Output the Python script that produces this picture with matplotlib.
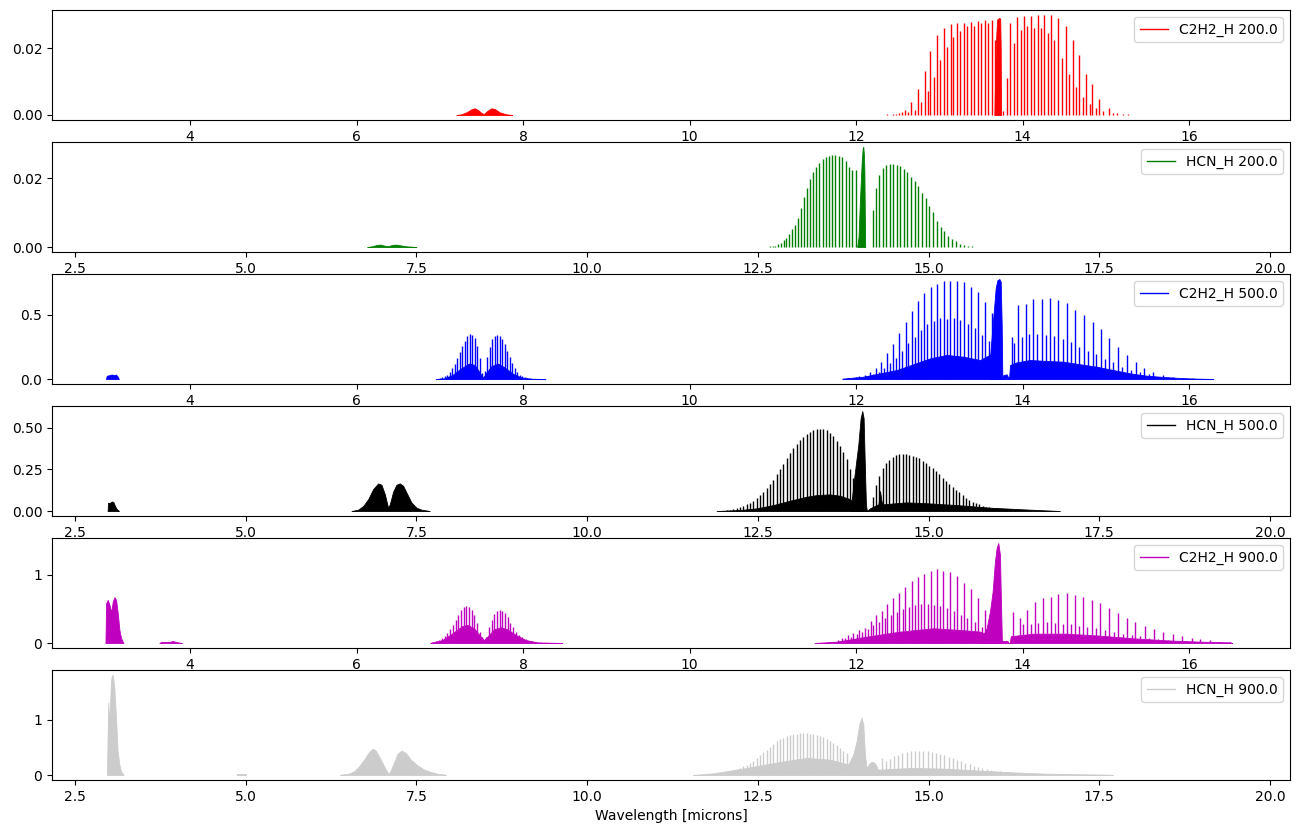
import matplotlib
matplotlib.use("Agg")
import matplotlib.pyplot as plt

# ---------------- axis ranges (microns) ----------------
C2H2_XLIM = (2.342, 17.213)
HCN_XLIM = (2.163, 20.293)

# ================= C2H2_H 200.0 =================
c2h2_200_line_wl = [12.376, 12.448, 12.480, 12.521, 12.553, 12.593, 12.629, 12.665, 12.705, 12.749,
                    12.785, 12.825, 12.861, 12.893, 12.937, 12.977, 13.013, 13.053, 13.093, 13.137,
                    13.169, 13.213, 13.249, 13.293, 13.329, 13.377, 13.417, 13.462, 13.506, 13.550,
                    13.586, 13.630, 13.670, 13.770, 13.814, 13.854, 13.894, 13.938, 13.978, 14.018,
                    14.058, 14.102, 14.138, 14.182, 14.222, 14.262, 14.302, 14.338, 14.382, 14.430,
                    14.474, 14.519, 14.559, 14.603, 14.643, 14.683, 14.727, 14.763, 14.807, 14.839,
                    14.883, 14.923, 14.963, 15.039, 15.091, 15.139, 15.211, 15.271, 15.323, 15.371]
c2h2_200_line_h = [0.0004, 0.0002, 0.0004, 0.0007, 0.0010, 0.0016, 0.0010, 0.0038, 0.0016, 0.0078,
                   0.0038, 0.0133, 0.0073, 0.0192, 0.0113, 0.0238, 0.0164, 0.0260, 0.0202, 0.0271,
                   0.0232, 0.0275, 0.0251, 0.0275, 0.0265, 0.0277, 0.0265, 0.0281, 0.0275, 0.0285,
                   0.0275, 0.0283, 0.0224, 0.0012, 0.0111, 0.0275, 0.0214, 0.0293, 0.0255, 0.0295,
                   0.0267, 0.0297, 0.0260, 0.0299, 0.0260, 0.0299, 0.0244, 0.0299, 0.0224, 0.0291,
                   0.0169, 0.0265, 0.0123, 0.0224, 0.0083, 0.0178, 0.0053, 0.0123, 0.0034, 0.0093,
                   0.0022, 0.0048, 0.0012, 0.0020, 0.0007, 0.0007, 0.0002, 0.0002, 0.0001, 0.0001]
c2h2_200_q_wl = [13.662, 13.672, 13.685, 13.695, 13.705, 13.720, 13.732, 13.738, 13.742]
c2h2_200_q_h = [0.0, 0.012, 0.024, 0.0285, 0.0288, 0.0290, 0.0288, 0.020, 0.0]
c2h2_200_b7_wl = [7.20, 7.26, 7.32, 7.38, 7.42, 7.46, 7.50, 7.53, 7.57, 7.62, 7.66, 7.72, 7.80, 7.87]
c2h2_200_b7_h = [0.0, 0.0002, 0.0008, 0.0017, 0.0020, 0.0015, 0.0006, 0.0003, 0.0012, 0.0020, 0.0018,
                 0.0008, 0.0002, 0.0]

# ================= HCN_H 200.0 =================
hcn_200_line_wl = [12.560, 12.598, 12.637, 12.676, 12.715, 12.755, 12.795, 12.836, 12.877, 12.918,
                   12.960, 13.002, 13.045, 13.088, 13.131, 13.175, 13.219, 13.264, 13.309, 13.355,
                   13.401, 13.447, 13.494, 13.541, 13.589, 13.637, 13.686, 13.735, 13.785, 13.835,
                   13.886, 13.937,
                   14.181, 14.230, 14.280, 14.330, 14.380, 14.431, 14.482, 14.533, 14.585, 14.637,
                   14.689, 14.742, 14.795, 14.848, 14.902, 14.956, 15.010, 15.065, 15.120, 15.176,
                   15.232, 15.288, 15.345, 15.402, 15.460, 15.518, 15.576, 15.635, 15.694, 15.754,
                   15.814, 15.875]
hcn_200_line_h = [0.0001, 0.0001, 0.0001, 0.0002, 0.0003, 0.0004, 0.0008, 0.0013, 0.0019, 0.0026,
                  0.0038, 0.0052, 0.0063, 0.0083, 0.0112, 0.0145, 0.0172, 0.0198, 0.0217, 0.0232,
                  0.0245, 0.0255, 0.0262, 0.0265, 0.0267, 0.0266, 0.0264, 0.0260, 0.0250, 0.0233,
                  0.0224, 0.0224,
                  0.0108, 0.0170, 0.0210, 0.0229, 0.0237, 0.0241, 0.0241, 0.0239, 0.0234, 0.0227,
                  0.0217, 0.0204, 0.0192, 0.0177, 0.0157, 0.0141, 0.0120, 0.0102, 0.0075, 0.0058,
                  0.0045, 0.0032, 0.0023, 0.0016, 0.0010, 0.0006, 0.0003, 0.0002, 0.0001, 0.0001,
                  0.0001, 0.0001]
hcn_200_q_wl = [13.955, 13.975, 13.995, 14.010, 14.022, 14.035, 14.044, 14.052, 14.060, 14.066, 14.072]
hcn_200_q_h = [0.0, 0.003, 0.0135, 0.020, 0.025, 0.0285, 0.0290, 0.027, 0.022, 0.010, 0.0]
hcn_200_b7_wl = [6.78, 6.85, 6.92, 6.97, 7.03, 7.08, 7.13, 7.19, 7.26, 7.35, 7.50]
hcn_200_b7_h = [0.0, 0.0002, 0.0006, 0.0007, 0.0004, 0.0002, 0.0005, 0.0007, 0.0005, 0.0002, 0.0]

# ================= C2H2_H 500.0 =================
c2h2_500_line_wl = [12.040, 12.108, 12.172, 12.237, 12.305, 12.377, 12.449, 12.521, 12.597, 12.669,
                    12.749, 12.821, 12.897, 12.973, 13.053, 13.133, 13.213, 13.298, 13.386, 13.470,
                    13.554, 13.630,
                    13.870, 13.942, 14.038, 14.130, 14.235, 14.335, 14.431, 14.531, 14.631, 14.739,
                    14.843, 14.939, 15.043, 15.147, 15.252, 15.360, 15.464, 15.572, 15.692, 15.812,
                    15.932, 16.052, 16.172, 16.293]
c2h2_500_line_h = [0.021, 0.031, 0.057, 0.083, 0.135, 0.200, 0.270, 0.357, 0.443, 0.531,
                   0.609, 0.669, 0.716, 0.740, 0.766, 0.766, 0.766, 0.760, 0.721, 0.682,
                   0.604, 0.513,
                   0.331, 0.578, 0.583, 0.625, 0.625, 0.630, 0.617, 0.591, 0.539, 0.500,
                   0.448, 0.391, 0.323, 0.253, 0.188, 0.130, 0.089, 0.052, 0.031, 0.018,
                   0.010, 0.005, 0.003, 0.002]
c2h2_500_mid_wl = [11.84, 11.88, 11.92, 11.96, 12.00, 12.140, 12.209, 12.273, 12.341, 12.413,
                   12.485, 12.557, 12.629, 12.705, 12.781, 12.857, 12.933, 13.013, 13.093, 13.173,
                   13.254, 13.342, 13.426, 13.514, 13.594,
                   13.898, 13.990, 14.082, 14.178, 14.283, 14.383, 14.483, 14.579, 14.683, 14.783,
                   14.883, 14.987, 15.091, 15.196, 15.304, 15.412, 15.520]
c2h2_500_mid_h = [0.002, 0.003, 0.004, 0.008, 0.012, 0.026, 0.042, 0.057, 0.083, 0.122,
                  0.167, 0.219, 0.279, 0.331, 0.383, 0.427, 0.453, 0.474, 0.469, 0.474,
                  0.461, 0.427, 0.396, 0.344, 0.297,
                  0.279, 0.331, 0.349, 0.349, 0.344, 0.336, 0.313, 0.292, 0.253, 0.219,
                  0.193, 0.156, 0.130, 0.096, 0.070, 0.052, 0.036]
c2h2_500_base_wl = [11.836, 12.088, 12.289, 12.489, 12.689, 12.889, 13.089, 13.290, 13.490, 13.610,
                    13.650, 13.758, 13.770, 13.810, 13.838, 13.850, 13.930, 14.090, 14.291, 14.491,
                    14.691, 14.891, 15.091, 15.292, 15.492, 15.692, 15.892, 16.092, 16.293]
c2h2_500_base_h = [0.003, 0.018, 0.044, 0.070, 0.115, 0.161, 0.188, 0.174, 0.148, 0.190,
                   0.25, 0.0, 0.031, 0.036, 0.0, 0.109, 0.130, 0.148, 0.141, 0.135,
                   0.115, 0.096, 0.070, 0.044, 0.026, 0.016, 0.008, 0.003, 0.0]
c2h2_500_q_wl = [13.600, 13.615, 13.638, 13.658, 13.678, 13.698, 13.722, 13.738, 13.750, 13.758]
c2h2_500_q_h = [0.0, 0.21, 0.40, 0.55, 0.71, 0.77, 0.78, 0.76, 0.42, 0.0]
c2h2_500_b7_line_wl = [6.97, 7.00, 7.03, 7.06, 7.09, 7.12, 7.15, 7.18, 7.21, 7.24, 7.27, 7.30, 7.33,
                       7.36, 7.39, 7.42, 7.45, 7.48, 7.51, 7.54, 7.57, 7.60, 7.63, 7.66, 7.69, 7.72,
                       7.75, 7.78, 7.81, 7.84, 7.87, 7.90, 7.93, 7.96, 7.99, 8.02, 8.05, 8.08, 8.12,
                       8.16, 8.20, 8.24]
c2h2_500_b7_line_h = [0.003, 0.006, 0.012, 0.020, 0.035, 0.055, 0.085, 0.120, 0.160, 0.210, 0.260,
                      0.300, 0.335, 0.350, 0.345, 0.320, 0.260, 0.160, 0.050, 0.060, 0.170, 0.250,
                      0.310, 0.335, 0.340, 0.335, 0.310, 0.270, 0.220, 0.170, 0.125, 0.085, 0.055,
                      0.035, 0.020, 0.012, 0.007, 0.004, 0.002, 0.001, 0.001, 0.001]
c2h2_500_b7_base_wl = [6.95, 7.05, 7.15, 7.25, 7.35, 7.42, 7.48, 7.52, 7.56, 7.62, 7.70, 7.78,
                       7.88, 7.98, 8.10, 8.27]
c2h2_500_b7_base_h = [0.0, 0.005, 0.030, 0.080, 0.120, 0.110, 0.050, 0.010, 0.050, 0.100, 0.120,
                      0.090, 0.040, 0.012, 0.002, 0.0]
c2h2_500_b3_wl = [2.99, 3.00, 3.03, 3.06, 3.09, 3.11, 3.13, 3.145]
c2h2_500_b3_h = [0.0, 0.025, 0.030, 0.035, 0.030, 0.035, 0.020, 0.0]

# ================= HCN_H 500.0 =================
hcn_500_line_wl = [11.896, 11.945, 11.994, 12.043, 12.092, 12.141, 12.189, 12.238, 12.287, 12.336,
                   12.385, 12.433, 12.482, 12.531, 12.580, 12.629, 12.677, 12.726, 12.775, 12.824,
                   12.873, 12.921, 12.970, 13.019, 13.068, 13.117, 13.166, 13.214, 13.263, 13.312,
                   13.361, 13.410, 13.458, 13.507, 13.556, 13.605, 13.654, 13.702, 13.751, 13.800,
                   13.849, 13.898,
                   14.181, 14.230, 14.278, 14.327, 14.376, 14.425, 14.474, 14.522, 14.571, 14.620,
                   14.669, 14.718, 14.766, 14.815, 14.864, 14.913, 14.962, 15.010, 15.059, 15.108,
                   15.157, 15.206, 15.255, 15.303, 15.352, 15.401, 15.450, 15.499, 15.547, 15.596,
                   15.645, 15.694, 15.743, 15.792, 15.840, 15.889, 15.938, 15.987, 16.036, 16.084,
                   16.133, 16.192, 16.265, 16.339, 16.436, 16.534, 16.631, 16.729, 16.826, 16.924]
hcn_500_line_h = [0.0005, 0.0005, 0.002, 0.004, 0.008, 0.012, 0.016, 0.024, 0.032, 0.040,
                  0.048, 0.060, 0.076, 0.096, 0.112, 0.137, 0.161, 0.187, 0.221, 0.253,
                  0.281, 0.317, 0.349, 0.378, 0.402, 0.426, 0.446, 0.462, 0.478, 0.486,
                  0.492, 0.494, 0.492, 0.486, 0.470, 0.450, 0.422, 0.390, 0.353, 0.313,
                  0.253, 0.197,
                  0.086, 0.157, 0.213, 0.257, 0.287, 0.307, 0.327, 0.337, 0.341, 0.341,
                  0.341, 0.337, 0.333, 0.325, 0.317, 0.301, 0.287, 0.273, 0.257, 0.241,
                  0.221, 0.201, 0.181, 0.161, 0.145, 0.127, 0.112, 0.096, 0.080, 0.068,
                  0.056, 0.046, 0.040, 0.032, 0.026, 0.024, 0.020, 0.016, 0.014, 0.012,
                  0.010, 0.010, 0.006, 0.004, 0.002, 0.001, 0.001, 0.001, 0.001, 0.001]
hcn_500_base_wl = [11.896, 12.238, 12.482, 12.726, 12.970, 13.214, 13.361, 13.556, 13.702, 13.849,
                   13.883, 14.098, 14.142, 14.240, 14.265, 14.290, 14.310, 14.330, 14.435, 14.679,
                   14.923, 15.411, 15.899, 16.387, 16.924]
hcn_500_base_h = [0.0, 0.006, 0.016, 0.036, 0.062, 0.086, 0.096, 0.100, 0.092, 0.072,
                  0.056, 0.0, 0.016, 0.036, 0.040, 0.120, 0.060, 0.040, 0.044, 0.052,
                  0.048, 0.036, 0.020, 0.010, 0.0]
hcn_500_q_wl = [13.860, 13.873, 13.922, 13.971, 14.005, 14.029, 14.049, 14.069, 14.083, 14.098]
hcn_500_q_h = [0.0, 0.060, 0.237, 0.398, 0.558, 0.602, 0.558, 0.237, 0.036, 0.0]
hcn_500_b7_wl = [6.549, 6.646, 6.720, 6.793, 6.866, 6.939, 6.988, 7.037, 7.085, 7.110, 7.159, 7.207,
                 7.256, 7.305, 7.354, 7.427, 7.500, 7.573, 7.695]
hcn_500_b7_h = [0.0, 0.008, 0.030, 0.071, 0.132, 0.166, 0.158, 0.101, 0.020, 0.040, 0.117, 0.158,
                0.166, 0.152, 0.111, 0.051, 0.020, 0.008, 0.0]
hcn_500_b3_wl = [2.978, 2.983, 3.012, 3.037, 3.061, 3.085, 3.110, 3.144]
hcn_500_b3_h = [0.0, 0.049, 0.049, 0.057, 0.055, 0.030, 0.012, 0.0]

# ================= C2H2_H 900.0 =================
c2h2_900_line_wl = [11.53, 11.58, 11.63, 11.68, 11.73, 11.78,
                    11.828, 11.908, 11.968, 12.040, 12.108, 12.176, 12.240, 12.308, 12.376, 12.448,
                    12.520, 12.592, 12.668, 12.748, 12.820, 12.897, 12.977, 13.049, 13.133, 13.217,
                    13.297, 13.381, 13.469, 13.553,
                    13.890, 13.970, 14.050, 14.150, 14.242, 14.338, 14.430, 14.530, 14.630, 14.730,
                    14.830, 14.931, 15.043, 15.151, 15.251, 15.351, 15.471, 15.579, 15.691, 15.803,
                    15.912, 16.032, 16.132, 16.252, 16.372, 16.492]
c2h2_900_line_h = [0.005, 0.005, 0.006, 0.008, 0.012, 0.040,
                   0.078, 0.118, 0.142, 0.191, 0.225, 0.324, 0.412, 0.471, 0.569, 0.657,
                   0.740, 0.828, 0.902, 0.961, 1.015, 1.059, 1.078, 1.059, 1.034, 0.985,
                   0.887, 0.789, 0.657, 0.485,
                   0.461, 0.363, 0.485, 0.608, 0.657, 0.681, 0.716, 0.730, 0.706, 0.681,
                   0.632, 0.583, 0.510, 0.436, 0.363, 0.314, 0.255, 0.206, 0.167, 0.127,
                   0.108, 0.078, 0.059, 0.039, 0.020, 0.010]
c2h2_900_mid_wl = [11.868, 11.936, 12.008, 12.076, 12.144, 12.208, 12.276, 12.344, 12.416, 12.488,
                   12.560, 12.632, 12.708, 12.784, 12.861, 12.937, 13.013, 13.093, 13.177, 13.257,
                   13.337, 13.425, 13.509,
                   14.002, 14.098, 14.190, 14.290, 14.390, 14.490, 14.582, 14.682, 14.778, 14.883,
                   14.991, 15.099, 15.203, 15.311, 15.411, 15.523, 15.631, 15.743]
c2h2_900_mid_h = [0.069, 0.093, 0.127, 0.157, 0.206, 0.265, 0.304, 0.363, 0.412, 0.451,
                  0.500, 0.534, 0.559, 0.569, 0.569, 0.559, 0.549, 0.520, 0.471, 0.412,
                  0.363, 0.314, 0.240,
                  0.275, 0.275, 0.289, 0.304, 0.294, 0.284, 0.275, 0.255, 0.235, 0.216,
                  0.186, 0.167, 0.137, 0.118, 0.098, 0.078, 0.059, 0.049]
c2h2_900_base_wl = [11.50, 11.767, 12.128, 12.528, 12.929, 13.249, 13.489,
                    13.755, 13.760, 13.820, 13.830, 13.845, 13.860, 14.130, 14.530, 14.931, 15.331,
                    15.731, 16.132, 16.492, 16.520]
c2h2_900_base_h = [0.0, 0.020, 0.093, 0.167, 0.216, 0.191, 0.167,
                   0.0, 0.030, 0.030, 0.0, 0.0, 0.100, 0.137, 0.137, 0.108, 0.069,
                   0.039, 0.020, 0.010, 0.0]
c2h2_900_q_wl = [13.480, 13.529, 13.569, 13.609, 13.641, 13.669, 13.689, 13.709, 13.729, 13.741, 13.753]
c2h2_900_q_h = [0.0, 0.118, 0.216, 0.461, 0.755, 1.196, 1.392, 1.466, 1.294, 0.608, 0.0]
c2h2_900_b3_wl = [2.984, 2.992, 3.012, 3.032, 3.052, 3.072, 3.092, 3.112, 3.132, 3.152, 3.172, 3.200]
c2h2_900_b3_h = [0.0, 0.583, 0.632, 0.560, 0.450, 0.608, 0.672, 0.632, 0.436, 0.191, 0.069, 0.0]
c2h2_900_b4_wl = [3.632, 3.652, 3.752, 3.792, 3.832, 3.904]
c2h2_900_b4_h = [0.0, 0.015, 0.015, 0.030, 0.015, 0.0]
c2h2_900_b7_line_wl = [6.912, 6.952, 6.992, 7.024, 7.060, 7.092, 7.124, 7.160, 7.192, 7.224, 7.256,
                       7.288, 7.320, 7.352, 7.384, 7.416, 7.448, 7.480, 7.512, 7.560, 7.592, 7.624,
                       7.656, 7.688, 7.720, 7.752, 7.784, 7.816, 7.848, 7.880, 7.912, 7.952, 7.992,
                       8.040, 8.092, 8.144, 8.20, 8.25, 8.30, 8.35, 8.40, 8.45]
c2h2_900_b7_line_h = [0.020, 0.029, 0.044, 0.069, 0.103, 0.142, 0.201, 0.265, 0.338, 0.412, 0.485,
                      0.525, 0.544, 0.534, 0.485, 0.412, 0.289, 0.167, 0.083, 0.093, 0.230, 0.338,
                      0.426, 0.471, 0.485, 0.475, 0.446, 0.377, 0.299, 0.230, 0.167, 0.118, 0.083,
                      0.054, 0.034, 0.020, 0.006, 0.006, 0.006, 0.006, 0.006, 0.006]
c2h2_900_b7_base_wl = [6.884, 7.032, 7.152, 7.272, 7.332, 7.412, 7.492, 7.532, 7.572, 7.652, 7.732,
                       7.812, 7.912, 8.032, 8.172, 8.472]
c2h2_900_b7_base_h = [0.0, 0.044, 0.142, 0.250, 0.265, 0.216, 0.093, 0.044, 0.093, 0.201, 0.230,
                      0.201, 0.118, 0.044, 0.010, 0.0]

# ================= HCN_H 900.0 =================
hcn_900_line_wl = [11.603, 11.652, 11.701, 11.749, 11.798, 11.847, 11.896, 11.945, 11.994, 12.042,
                   12.091, 12.140, 12.189, 12.238, 12.286, 12.335, 12.384, 12.433, 12.482, 12.530,
                   12.579, 12.628, 12.677, 12.726, 12.774, 12.823, 12.872, 12.921, 12.970, 13.018,
                   13.067, 13.116, 13.165, 13.214, 13.263, 13.311, 13.360, 13.409, 13.458, 13.507,
                   13.555, 13.604, 13.653, 13.702, 13.751, 13.800,
                   14.312, 14.376, 14.434, 14.493, 14.556, 14.615, 14.678, 14.737, 14.800, 14.864,
                   14.922, 14.986, 15.044, 15.108, 15.166, 15.230, 15.293, 15.352, 15.415, 15.474,
                   15.537, 15.601, 15.659, 15.723, 15.786, 15.850, 15.913, 15.976, 16.045, 16.118,
                   16.191, 16.264, 16.338, 16.435, 16.533, 16.630, 16.728, 16.875, 17.021, 17.167,
                   17.314, 17.460, 17.607]
hcn_900_line_h = [0.006, 0.006, 0.006, 0.012, 0.012, 0.018, 0.024, 0.030, 0.042, 0.055,
                  0.073, 0.091, 0.109, 0.127, 0.158, 0.188, 0.224, 0.261, 0.309, 0.358,
                  0.412, 0.461, 0.515, 0.564, 0.612, 0.648, 0.679, 0.703, 0.721, 0.739,
                  0.745, 0.752, 0.752, 0.752, 0.745, 0.745, 0.727, 0.709, 0.685, 0.661,
                  0.624, 0.582, 0.539, 0.491, 0.442, 0.400,
                  0.309, 0.248, 0.297, 0.339, 0.370, 0.400, 0.418, 0.430, 0.430, 0.430,
                  0.430, 0.430, 0.418, 0.406, 0.382, 0.358, 0.333, 0.309, 0.279, 0.248,
                  0.218, 0.194, 0.170, 0.145, 0.127, 0.109, 0.091, 0.079, 0.067, 0.055,
                  0.048, 0.042, 0.036, 0.024, 0.018, 0.012, 0.012, 0.006, 0.006, 0.006,
                  0.006, 0.006, 0.006]
hcn_900_base_wl = [11.55, 11.603, 11.847, 12.335, 12.823, 13.214, 13.555, 13.800,
                   14.288, 14.532, 14.776, 15.264, 15.752, 16.240, 16.728, 17.656, 17.700]
hcn_900_base_h = [0.0, 0.006, 0.030, 0.127, 0.236, 0.309, 0.279, 0.200,
                  0.097, 0.115, 0.127, 0.115, 0.079, 0.048, 0.024, 0.006, 0.0]
hcn_900_q_wl = [13.800, 13.824, 13.897, 13.946, 13.985, 14.019, 14.044, 14.068, 14.092, 14.117,
                14.151, 14.190, 14.229, 14.263, 14.288]
hcn_900_q_h = [0.0, 0.188, 0.370, 0.612, 0.915, 1.036, 0.915, 0.370, 0.127, 0.176,
               0.230, 0.236, 0.188, 0.067, 0.0]
hcn_900_b3_wl = [2.968, 2.978, 2.988, 2.998, 3.007, 3.027, 3.041, 3.056, 3.076, 3.100, 3.124,
                 3.149, 3.173, 3.212]
hcn_900_b3_h = [0.0, 0.73, 1.31, 1.00, 1.10, 1.70, 1.81, 1.79, 1.58, 1.04, 0.43, 0.19, 0.07, 0.0]
hcn_900_b5_wl = [4.870, 4.875, 5.000, 5.005]
hcn_900_b5_h = [0.0, 0.020, 0.020, 0.0]
hcn_900_b7_wl = [6.383, 6.490, 6.588, 6.661, 6.734, 6.807, 6.856, 6.905, 6.978, 7.051, 7.100,
                 7.149, 7.222, 7.280, 7.344, 7.417, 7.515, 7.612, 7.710, 7.807, 7.929]
hcn_900_b7_h = [0.006, 0.018, 0.067, 0.158, 0.279, 0.418, 0.473, 0.442, 0.279, 0.097, 0.018,
                0.158, 0.382, 0.442, 0.400, 0.279, 0.176, 0.097, 0.055, 0.024, 0.006]

# ---------------- panel assembly ----------------
panels = [
    ("C2H2_H 200.0", "r", C2H2_XLIM,
     [(c2h2_200_line_wl, c2h2_200_line_h)],
     [(c2h2_200_q_wl, c2h2_200_q_h), (c2h2_200_b7_wl, c2h2_200_b7_h)]),
    ("HCN_H 200.0", "g", HCN_XLIM,
     [(hcn_200_line_wl, hcn_200_line_h)],
     [(hcn_200_q_wl, hcn_200_q_h), (hcn_200_b7_wl, hcn_200_b7_h)]),
    ("C2H2_H 500.0", "b", C2H2_XLIM,
     [(c2h2_500_line_wl, c2h2_500_line_h), (c2h2_500_mid_wl, c2h2_500_mid_h),
      (c2h2_500_b7_line_wl, c2h2_500_b7_line_h)],
     [(c2h2_500_base_wl, c2h2_500_base_h), (c2h2_500_q_wl, c2h2_500_q_h),
      (c2h2_500_b7_base_wl, c2h2_500_b7_base_h), (c2h2_500_b3_wl, c2h2_500_b3_h)]),
    ("HCN_H 500.0", "k", HCN_XLIM,
     [(hcn_500_line_wl, hcn_500_line_h)],
     [(hcn_500_base_wl, hcn_500_base_h), (hcn_500_q_wl, hcn_500_q_h),
      (hcn_500_b7_wl, hcn_500_b7_h), (hcn_500_b3_wl, hcn_500_b3_h)]),
    ("C2H2_H 900.0", "m", C2H2_XLIM,
     [(c2h2_900_line_wl, c2h2_900_line_h), (c2h2_900_mid_wl, c2h2_900_mid_h),
      (c2h2_900_b7_line_wl, c2h2_900_b7_line_h)],
     [(c2h2_900_base_wl, c2h2_900_base_h), (c2h2_900_q_wl, c2h2_900_q_h),
      (c2h2_900_b3_wl, c2h2_900_b3_h), (c2h2_900_b4_wl, c2h2_900_b4_h),
      (c2h2_900_b7_base_wl, c2h2_900_b7_base_h)]),
    ("HCN_H 900.0", "0.8", HCN_XLIM,
     [(hcn_900_line_wl, hcn_900_line_h)],
     [(hcn_900_base_wl, hcn_900_base_h), (hcn_900_q_wl, hcn_900_q_h),
      (hcn_900_b3_wl, hcn_900_b3_h), (hcn_900_b5_wl, hcn_900_b5_h),
      (hcn_900_b7_wl, hcn_900_b7_h)]),
]

fig, axes = plt.subplots(6, 1, figsize=(13, 8.33), dpi=100)
fig.subplots_adjust(left=0.040, right=0.9923, top=0.988, bottom=0.0636, hspace=0.2)

for ax, (label, color, xlim, line_sets, fill_sets) in zip(axes, panels):
    for wl, h in fill_sets:
        ax.fill_between(wl, 0, h, color=color, linewidth=0.6)
    for wl, h in line_sets:
        ax.vlines(wl, 0, h, colors=color, linewidth=1.0)
    ax.plot([], [], color=color, linewidth=1.0, label=label)
    ax.set_xlim(*xlim)
    ax.legend(loc="upper right")

axes[-1].set_xlabel("Wavelength [microns]")
fig.savefig("out.png", dpi=100)
